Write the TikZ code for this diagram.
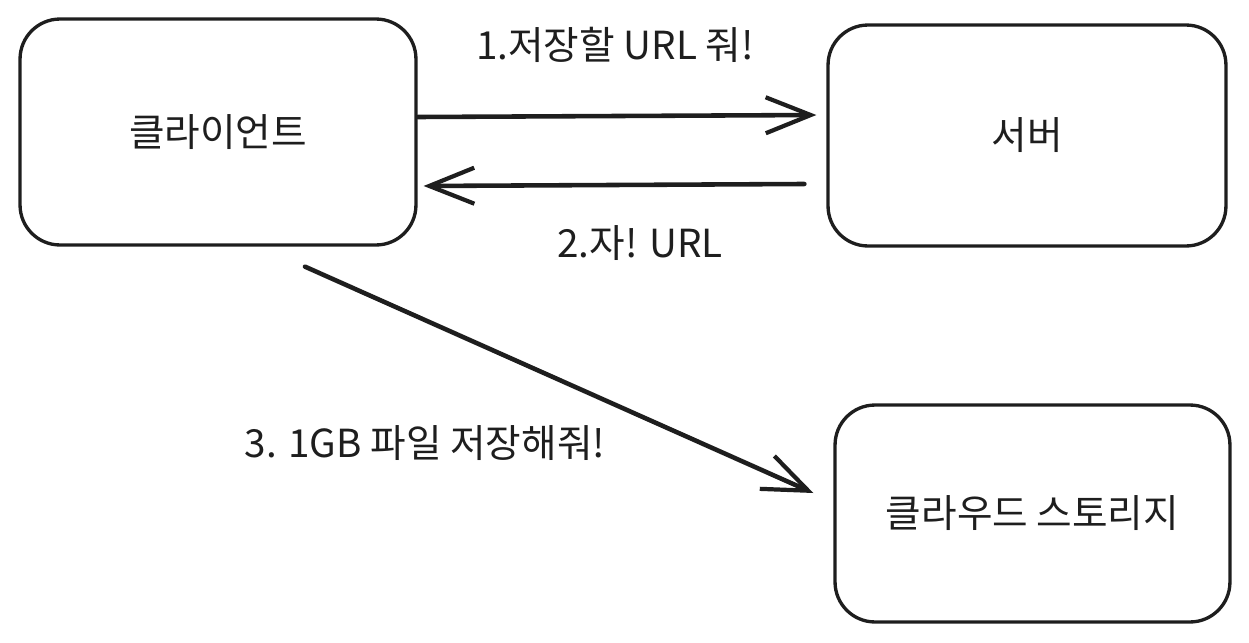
\documentclass[tikz,border=0pt]{standalone}
\usepackage{fontspec}
\setmainfont{Noto Sans CJK KR}
\usetikzlibrary{arrows.meta}
\definecolor{ink}{HTML}{1E1E1E}

\begin{document}
\begin{tikzpicture}[x=0.02cm, y=-0.02cm, every node/.style={font=\fontsize{22}{26}\selectfont, text=ink}]
\tikzstyle{blk}=[draw=ink, line width=1.9pt, rounded corners=0.8cm, align=center, inner sep=0pt]
\tikzstyle{msg}=[draw=ink, line width=2.6pt, line cap=round, -{Straight Barb[length=0.9cm, width=0.72cm, line width=2.4pt]}]
\useasboundingbox (0,0) rectangle (1249,643);
\node[blk, minimum width=7.92cm, minimum height=4.52cm] (client) at (218,132) {클라이언트};
\node[blk, minimum width=7.96cm, minimum height=4.42cm] (server) at (1027,135.5) {서버};
\node[blk, minimum width=7.9cm, minimum height=4.34cm] (storage) at (1032.5,513.5) {클라우드 스토리지};
\node (l1) at (615,45) {1.저장할 URL 줘!};
\node (l2) at (640,243) {2.자! URL};
\node (l3) at (425,443) {3. 1GB 파일 저장해줘!};
\draw[msg] ([yshift=0.3cm]client.east) -- ([xshift=-0.2cm, yshift=0.41cm]server.west);
\draw[msg] ([xshift=-0.44cm, yshift=-0.97cm]server.west) -- ([xshift=0.12cm, yshift=-1.08cm]client.east);
\draw[msg] ([xshift=1.74cm, yshift=-0.4cm]client.south) -- ([xshift=-0.4cm, yshift=0.41cm]storage.west);
\end{tikzpicture}
\end{document}
